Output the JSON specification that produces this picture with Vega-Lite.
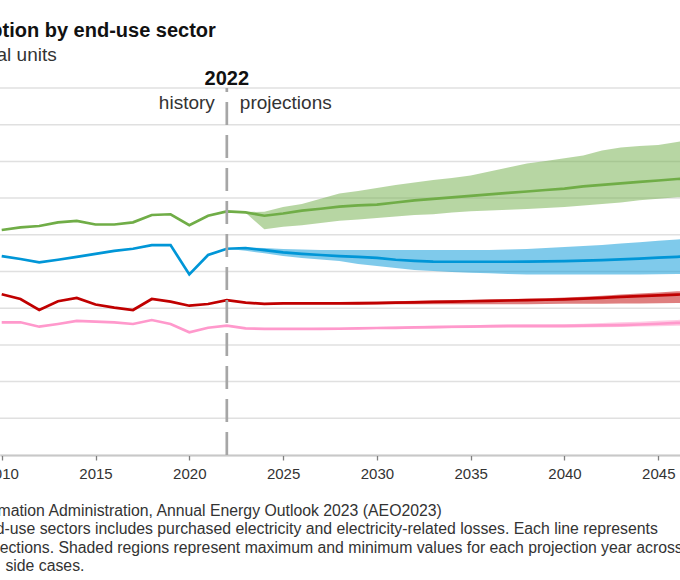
{
  "$schema": "https://vega.github.io/schema/vega-lite/v6.json",
  "width": 680,
  "height": 367,
  "autosize": {"type": "none"},
  "padding": {"left": 0, "top": 88, "right": 0, "bottom": 125},
  "title": {
    "text": "U.S. energy consumption by end-use sector",
    "subtitle": "quadrillion British thermal units",
    "anchor": "start",
    "frame": "group",
    "dx": -202,
    "offset": 4,
    "subtitlePadding": 5,
    "font": "Liberation Sans",
    "fontSize": 20,
    "fontWeight": "bold",
    "color": "#111111",
    "subtitleFont": "Liberation Sans",
    "subtitleFontSize": 19,
    "subtitleColor": "#333333"
  },
  "config": {"view": {"stroke": null}, "font": "Liberation Sans"},
  "datasets": {
    "grid": [{"v": 0}, {"v": 5}, {"v": 10}, {"v": 15}, {"v": 20}, {"v": 25}, {"v": 30}, {"v": 35}, {"v": 40}, {"v": 45}, {"v": 50}],
    "energy": [
      {"sector": "Industrial", "year": 2010, "value": 30.65},
      {"sector": "Industrial", "year": 2011, "value": 31.0},
      {"sector": "Industrial", "year": 2012, "value": 31.2},
      {"sector": "Industrial", "year": 2013, "value": 31.7},
      {"sector": "Industrial", "year": 2014, "value": 31.9},
      {"sector": "Industrial", "year": 2015, "value": 31.4},
      {"sector": "Industrial", "year": 2016, "value": 31.4},
      {"sector": "Industrial", "year": 2017, "value": 31.7},
      {"sector": "Industrial", "year": 2018, "value": 32.7},
      {"sector": "Industrial", "year": 2019, "value": 32.8},
      {"sector": "Industrial", "year": 2020, "value": 31.3},
      {"sector": "Industrial", "year": 2021, "value": 32.6},
      {"sector": "Industrial", "year": 2022, "value": 33.2, "low": 33.2, "high": 33.2},
      {"sector": "Industrial", "year": 2023, "value": 33.05, "low": 33.0, "high": 33.1},
      {"sector": "Industrial", "year": 2024, "value": 32.6, "low": 30.75, "high": 33.15},
      {"sector": "Industrial", "year": 2025, "value": 32.9, "low": 31.1, "high": 33.8},
      {"sector": "Industrial", "year": 2026, "value": 33.3, "low": 31.3, "high": 34.2},
      {"sector": "Industrial", "year": 2027, "value": 33.55, "low": 31.6, "high": 34.9},
      {"sector": "Industrial", "year": 2028, "value": 33.85, "low": 31.9, "high": 35.63},
      {"sector": "Industrial", "year": 2029, "value": 34.0, "low": 32.1, "high": 35.97},
      {"sector": "Industrial", "year": 2030, "value": 34.1, "low": 32.3, "high": 36.38},
      {"sector": "Industrial", "year": 2031, "value": 34.4, "low": 32.5, "high": 36.78},
      {"sector": "Industrial", "year": 2032, "value": 34.7, "low": 32.7, "high": 37.13},
      {"sector": "Industrial", "year": 2033, "value": 34.9, "low": 32.8, "high": 37.47},
      {"sector": "Industrial", "year": 2034, "value": 35.1, "low": 33.04, "high": 37.74},
      {"sector": "Industrial", "year": 2035, "value": 35.3, "low": 33.2, "high": 38.08},
      {"sector": "Industrial", "year": 2036, "value": 35.5, "low": 33.3, "high": 38.62},
      {"sector": "Industrial", "year": 2037, "value": 35.7, "low": 33.4, "high": 39.17},
      {"sector": "Industrial", "year": 2038, "value": 35.9, "low": 33.5, "high": 39.71},
      {"sector": "Industrial", "year": 2039, "value": 36.1, "low": 33.65, "high": 40.05},
      {"sector": "Industrial", "year": 2040, "value": 36.3, "low": 33.8, "high": 40.42},
      {"sector": "Industrial", "year": 2041, "value": 36.6, "low": 34.0, "high": 40.8},
      {"sector": "Industrial", "year": 2042, "value": 36.8, "low": 34.2, "high": 41.49},
      {"sector": "Industrial", "year": 2043, "value": 37.0, "low": 34.4, "high": 41.89},
      {"sector": "Industrial", "year": 2044, "value": 37.2, "low": 34.7, "high": 42.1},
      {"sector": "Industrial", "year": 2045, "value": 37.4, "low": 34.9, "high": 42.23},
      {"sector": "Industrial", "year": 2046, "value": 37.6, "low": 35.1, "high": 42.64},
      {"sector": "Industrial", "year": 2047, "value": 37.8, "low": 35.3, "high": 43.0},
      {"sector": "Transportation", "year": 2010, "value": 27.1},
      {"sector": "Transportation", "year": 2011, "value": 26.7},
      {"sector": "Transportation", "year": 2012, "value": 26.25},
      {"sector": "Transportation", "year": 2013, "value": 26.6},
      {"sector": "Transportation", "year": 2014, "value": 27.0},
      {"sector": "Transportation", "year": 2015, "value": 27.4},
      {"sector": "Transportation", "year": 2016, "value": 27.8},
      {"sector": "Transportation", "year": 2017, "value": 28.1},
      {"sector": "Transportation", "year": 2018, "value": 28.6},
      {"sector": "Transportation", "year": 2019, "value": 28.6},
      {"sector": "Transportation", "year": 2020, "value": 24.6},
      {"sector": "Transportation", "year": 2021, "value": 27.25},
      {"sector": "Transportation", "year": 2022, "value": 28.1, "low": 28.1, "high": 28.1},
      {"sector": "Transportation", "year": 2023, "value": 28.2, "low": 27.83, "high": 28.27},
      {"sector": "Transportation", "year": 2024, "value": 27.9, "low": 27.48, "high": 28.2},
      {"sector": "Transportation", "year": 2025, "value": 27.6, "low": 27.11, "high": 28.07},
      {"sector": "Transportation", "year": 2026, "value": 27.4, "low": 26.84, "high": 28.0},
      {"sector": "Transportation", "year": 2027, "value": 27.25, "low": 26.63, "high": 27.93},
      {"sector": "Transportation", "year": 2028, "value": 27.1, "low": 26.43, "high": 27.93},
      {"sector": "Transportation", "year": 2029, "value": 27.0, "low": 26.02, "high": 27.93},
      {"sector": "Transportation", "year": 2030, "value": 26.85, "low": 25.75, "high": 27.93},
      {"sector": "Transportation", "year": 2031, "value": 26.6, "low": 25.48, "high": 27.93},
      {"sector": "Transportation", "year": 2032, "value": 26.45, "low": 25.2, "high": 27.93},
      {"sector": "Transportation", "year": 2033, "value": 26.35, "low": 25.07, "high": 27.93},
      {"sector": "Transportation", "year": 2034, "value": 26.33, "low": 24.93, "high": 27.93},
      {"sector": "Transportation", "year": 2035, "value": 26.33, "low": 24.84, "high": 27.93},
      {"sector": "Transportation", "year": 2036, "value": 26.33, "low": 24.76, "high": 27.93},
      {"sector": "Transportation", "year": 2037, "value": 26.33, "low": 24.66, "high": 28.0},
      {"sector": "Transportation", "year": 2038, "value": 26.35, "low": 24.59, "high": 28.07},
      {"sector": "Transportation", "year": 2039, "value": 26.38, "low": 24.59, "high": 28.2},
      {"sector": "Transportation", "year": 2040, "value": 26.42, "low": 24.59, "high": 28.34},
      {"sector": "Transportation", "year": 2041, "value": 26.48, "low": 24.59, "high": 28.47},
      {"sector": "Transportation", "year": 2042, "value": 26.55, "low": 24.59, "high": 28.6},
      {"sector": "Transportation", "year": 2043, "value": 26.65, "low": 24.59, "high": 28.8},
      {"sector": "Transportation", "year": 2044, "value": 26.75, "low": 24.6, "high": 29.0},
      {"sector": "Transportation", "year": 2045, "value": 26.88, "low": 24.62, "high": 29.2},
      {"sector": "Transportation", "year": 2046, "value": 27.0, "low": 24.65, "high": 29.36},
      {"sector": "Transportation", "year": 2047, "value": 27.1, "low": 24.7, "high": 29.5},
      {"sector": "Residential", "year": 2010, "value": 21.9},
      {"sector": "Residential", "year": 2011, "value": 21.25},
      {"sector": "Residential", "year": 2012, "value": 19.75},
      {"sector": "Residential", "year": 2013, "value": 20.95},
      {"sector": "Residential", "year": 2014, "value": 21.4},
      {"sector": "Residential", "year": 2015, "value": 20.5},
      {"sector": "Residential", "year": 2016, "value": 20.07},
      {"sector": "Residential", "year": 2017, "value": 19.75},
      {"sector": "Residential", "year": 2018, "value": 21.25},
      {"sector": "Residential", "year": 2019, "value": 20.9},
      {"sector": "Residential", "year": 2020, "value": 20.34},
      {"sector": "Residential", "year": 2021, "value": 20.57},
      {"sector": "Residential", "year": 2022, "value": 21.1, "low": 21.1, "high": 21.1},
      {"sector": "Residential", "year": 2023, "value": 20.75, "low": 20.7, "high": 20.8},
      {"sector": "Residential", "year": 2024, "value": 20.6, "low": 20.5, "high": 20.7},
      {"sector": "Residential", "year": 2025, "value": 20.67, "low": 20.55, "high": 20.75},
      {"sector": "Residential", "year": 2026, "value": 20.67, "low": 20.55, "high": 20.8},
      {"sector": "Residential", "year": 2027, "value": 20.67, "low": 20.55, "high": 20.8},
      {"sector": "Residential", "year": 2028, "value": 20.67, "low": 20.55, "high": 20.85},
      {"sector": "Residential", "year": 2029, "value": 20.67, "low": 20.55, "high": 20.9},
      {"sector": "Residential", "year": 2030, "value": 20.7, "low": 20.55, "high": 20.9},
      {"sector": "Residential", "year": 2031, "value": 20.75, "low": 20.55, "high": 20.95},
      {"sector": "Residential", "year": 2032, "value": 20.8, "low": 20.55, "high": 21.0},
      {"sector": "Residential", "year": 2033, "value": 20.85, "low": 20.55, "high": 21.05},
      {"sector": "Residential", "year": 2034, "value": 20.9, "low": 20.55, "high": 21.1},
      {"sector": "Residential", "year": 2035, "value": 20.95, "low": 20.55, "high": 21.15},
      {"sector": "Residential", "year": 2036, "value": 21.0, "low": 20.55, "high": 21.2},
      {"sector": "Residential", "year": 2037, "value": 21.05, "low": 20.55, "high": 21.25},
      {"sector": "Residential", "year": 2038, "value": 21.1, "low": 20.55, "high": 21.3},
      {"sector": "Residential", "year": 2039, "value": 21.15, "low": 20.57, "high": 21.35},
      {"sector": "Residential", "year": 2040, "value": 21.2, "low": 20.6, "high": 21.45},
      {"sector": "Residential", "year": 2041, "value": 21.3, "low": 20.6, "high": 21.55},
      {"sector": "Residential", "year": 2042, "value": 21.4, "low": 20.62, "high": 21.7},
      {"sector": "Residential", "year": 2043, "value": 21.55, "low": 20.63, "high": 21.85},
      {"sector": "Residential", "year": 2044, "value": 21.65, "low": 20.65, "high": 22.0},
      {"sector": "Residential", "year": 2045, "value": 21.75, "low": 20.67, "high": 22.15},
      {"sector": "Residential", "year": 2046, "value": 21.85, "low": 20.7, "high": 22.3},
      {"sector": "Residential", "year": 2047, "value": 21.95, "low": 20.72, "high": 22.45},
      {"sector": "Commercial", "year": 2010, "value": 18.08},
      {"sector": "Commercial", "year": 2011, "value": 18.08},
      {"sector": "Commercial", "year": 2012, "value": 17.48},
      {"sector": "Commercial", "year": 2013, "value": 17.85},
      {"sector": "Commercial", "year": 2014, "value": 18.26},
      {"sector": "Commercial", "year": 2015, "value": 18.17},
      {"sector": "Commercial", "year": 2016, "value": 18.08},
      {"sector": "Commercial", "year": 2017, "value": 17.85},
      {"sector": "Commercial", "year": 2018, "value": 18.39},
      {"sector": "Commercial", "year": 2019, "value": 17.85},
      {"sector": "Commercial", "year": 2020, "value": 16.72},
      {"sector": "Commercial", "year": 2021, "value": 17.34},
      {"sector": "Commercial", "year": 2022, "value": 17.62, "low": 17.62, "high": 17.62},
      {"sector": "Commercial", "year": 2023, "value": 17.26, "low": 17.22, "high": 17.3},
      {"sector": "Commercial", "year": 2024, "value": 17.17, "low": 17.1, "high": 17.25},
      {"sector": "Commercial", "year": 2025, "value": 17.17, "low": 17.1, "high": 17.25},
      {"sector": "Commercial", "year": 2026, "value": 17.17, "low": 17.1, "high": 17.28},
      {"sector": "Commercial", "year": 2027, "value": 17.18, "low": 17.1, "high": 17.32},
      {"sector": "Commercial", "year": 2028, "value": 17.2, "low": 17.12, "high": 17.36},
      {"sector": "Commercial", "year": 2029, "value": 17.25, "low": 17.13, "high": 17.4},
      {"sector": "Commercial", "year": 2030, "value": 17.3, "low": 17.15, "high": 17.45},
      {"sector": "Commercial", "year": 2031, "value": 17.33, "low": 17.18, "high": 17.5},
      {"sector": "Commercial", "year": 2032, "value": 17.38, "low": 17.2, "high": 17.55},
      {"sector": "Commercial", "year": 2033, "value": 17.42, "low": 17.23, "high": 17.6},
      {"sector": "Commercial", "year": 2034, "value": 17.47, "low": 17.27, "high": 17.65},
      {"sector": "Commercial", "year": 2035, "value": 17.5, "low": 17.3, "high": 17.7},
      {"sector": "Commercial", "year": 2036, "value": 17.55, "low": 17.3, "high": 17.72},
      {"sector": "Commercial", "year": 2037, "value": 17.58, "low": 17.32, "high": 17.75},
      {"sector": "Commercial", "year": 2038, "value": 17.6, "low": 17.33, "high": 17.77},
      {"sector": "Commercial", "year": 2039, "value": 17.6, "low": 17.34, "high": 17.78},
      {"sector": "Commercial", "year": 2040, "value": 17.6, "low": 17.35, "high": 17.8},
      {"sector": "Commercial", "year": 2041, "value": 17.62, "low": 17.37, "high": 17.88},
      {"sector": "Commercial", "year": 2042, "value": 17.65, "low": 17.4, "high": 17.97},
      {"sector": "Commercial", "year": 2043, "value": 17.7, "low": 17.45, "high": 18.07},
      {"sector": "Commercial", "year": 2044, "value": 17.78, "low": 17.5, "high": 18.17},
      {"sector": "Commercial", "year": 2045, "value": 17.88, "low": 17.55, "high": 18.28},
      {"sector": "Commercial", "year": 2046, "value": 18.0, "low": 17.6, "high": 18.4},
      {"sector": "Commercial", "year": 2047, "value": 18.08, "low": 17.65, "high": 18.5}
    ],
    "marker": [{"year": 2022, "label": "2022", "left": "history", "right": "projections"}]
  },
  "layer": [
    {
      "data": {"name": "grid"},
      "mark": {"type": "rule", "color": "#e0e0e0", "strokeWidth": 1.5},
      "encoding": {
        "y": {"field": "v", "type": "quantitative", "scale": {"domain": [0, 50], "nice": false}, "axis": null}
      }
    },
    {
      "data": {"name": "energy"},
      "transform": [{"filter": "isValid(datum.low)"}],
      "mark": {"type": "area", "opacity": 0.5, "clip": true},
      "encoding": {
        "x": {
          "field": "year",
          "type": "quantitative",
          "scale": {"domain": [2009.909, 2046.157], "nice": false, "zero": false},
          "axis": {
            "values": [2010, 2015, 2020, 2025, 2030, 2035, 2040, 2045, 2050],
            "format": "d",
            "grid": false,
            "domainColor": "#808080",
            "domainWidth": 1.5,
            "tickColor": "#808080",
            "tickWidth": 1.3,
            "tickSize": 5,
            "labelPadding": 6,
            "labelFont": "Liberation Sans",
            "labelFontSize": 15,
            "labelColor": "#333333",
            "labelOverlap": false,
            "labelFlush": false,
            "title": [
              "Source: U.S. Energy Information Administration, Annual Energy Outlook 2023 (AEO2023)",
              "Note: Consumption by end-use sectors includes purchased electricity and electricity-related losses. Each line represents",
              "EIA's Reference case projections. Shaded regions represent maximum and minimum values for each projection year across",
              "the Reference case and\u2003 side cases."
            ],
            "titleX": -183,
            "titleY": 60,
            "titleAlign": "left",
            "titleAnchor": "start",
            "titleBaseline": "alphabetic",
            "titleFont": "Liberation Sans",
            "titleFontSize": 15.8,
            "titleFontWeight": "normal",
            "titleColor": "#333333",
            "titleLineHeight": 18.5
          }
        },
        "y": {"field": "low", "type": "quantitative", "axis": null},
        "y2": {"field": "high"},
        "color": {
          "field": "sector",
          "type": "nominal",
          "scale": {"domain": ["Industrial", "Transportation", "Residential", "Commercial"], "range": ["#70ad47", "#0096d7", "#c00000", "#ff99cc"]},
          "legend": null
        }
      }
    },
    {
      "data": {"name": "energy"},
      "mark": {"type": "line", "strokeWidth": 2.7, "clip": true},
      "encoding": {
        "x": {"field": "year", "type": "quantitative"},
        "y": {"field": "value", "type": "quantitative", "axis": null},
        "color": {"field": "sector", "type": "nominal", "legend": null}
      }
    },
    {
      "data": {"name": "marker"},
      "mark": {"type": "rule", "color": "#a6a6a6", "strokeWidth": 2.7, "strokeDash": [23, 10]},
      "encoding": {
        "x": {"field": "year", "type": "quantitative"},
        "y": {"datum": 0, "axis": null},
        "y2": {"datum": 50}
      }
    },
    {
      "data": {"name": "marker"},
      "mark": {"type": "text", "font": "Liberation Sans", "fontSize": 20, "fontWeight": "bold", "color": "#111111", "baseline": "alphabetic", "align": "center", "dy": -3},
      "encoding": {"x": {"field": "year", "type": "quantitative"}, "y": {"datum": 50, "axis": null}, "text": {"field": "label"}}
    },
    {
      "data": {"name": "marker"},
      "mark": {"type": "text", "font": "Liberation Sans", "fontSize": 19, "color": "#333333", "baseline": "alphabetic", "align": "right", "dx": -12},
      "encoding": {"x": {"field": "year", "type": "quantitative"}, "y": {"datum": 47.2, "axis": null}, "text": {"field": "left"}}
    },
    {
      "data": {"name": "marker"},
      "mark": {"type": "text", "font": "Liberation Sans", "fontSize": 19, "color": "#333333", "baseline": "alphabetic", "align": "left", "dx": 13},
      "encoding": {"x": {"field": "year", "type": "quantitative"}, "y": {"datum": 47.2, "axis": null}, "text": {"field": "right"}}
    }
  ]
}
